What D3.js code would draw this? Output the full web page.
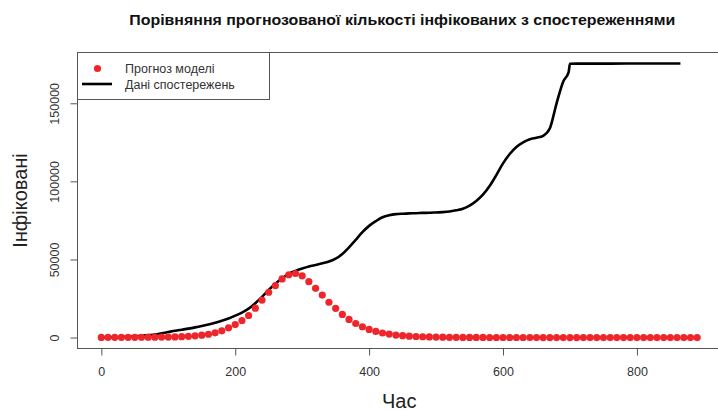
<!DOCTYPE html>
<html>
<head>
<meta charset="utf-8">
<script src="https://cdn.jsdelivr.net/npm/d3@7"></script>
<style>
  body { margin: 0; background: #fff; }
  text { font-family: "Liberation Sans", Arial, sans-serif; }
</style>
</head>
<body>
<div id="chart"></div>
<script>
// chart texts
var TITLE = 'Порівняння прогнозованої кількості інфікованих з спостереженнями';
var X_LABEL = 'Час';
var Y_LABEL = 'Інфіковані';
var LEGEND_LABELS = ['Прогноз моделі', 'Дані спостережень'];

// model forecast, one point every 10 days from day 0
var predStep = 10;
var predValues = [
  100, 105, 115, 125, 140, 160, 185, 215, 250, 290,
  300, 420, 580, 800, 1100, 1500, 2100, 3000, 4300, 6200,
  8300, 10900, 14100, 18800, 24000, 29000, 33300, 37500, 40200, 41000,
  39500, 35800, 31500, 27200, 22600, 18700, 14800, 11600, 9000, 6900,
  5200, 3900, 2900, 2200, 1600, 1200, 900, 680, 500, 380,
  280, 210, 160, 120, 90, 70, 50, 40, 30, 25,
  20, 15, 12, 10, 8, 6, 5, 4, 3, 3,
  2, 2, 1, 1, 1, 1, 1, 1, 1, 1,
  1, 1, 1, 1, 1, 1, 1, 1, 1, 1
];
var predDays = d3.range(predValues.length).map(function(i) { return i * predStep; });

// observed data (day, infected)
var obsDays = [
  0, 10, 20, 30, 40, 50, 60, 70, 80, 90,
  100, 110, 120, 130, 140, 150, 160, 170, 180, 190,
  200, 210, 220, 230, 240, 250, 260, 270, 280, 290,
  300, 310, 320, 330, 340, 350, 360, 370, 380, 390,
  400, 410, 420, 430, 440, 450, 460, 470, 480, 490,
  500, 510, 520, 530, 540, 550, 560, 570, 580, 590,
  600, 610, 620, 630, 640, 650, 660, 670, 680, 690,
  698, 700, 710, 760, 810, 865
];
var obsValues = [
  0, 100, 200, 400, 600, 800, 1100, 1500, 1900, 2700,
  3500, 4300, 5000, 5700, 6500, 7400, 8400, 9500, 10800, 12200,
  14000, 16000, 18500, 22000, 26000, 30500, 34500, 38000, 40800, 42700,
  44200, 45500, 46500, 47500, 48700, 50500, 53500, 57800, 62500, 67500,
  71500, 74500, 77000, 78300, 79000, 79300, 79500, 79600, 79800, 79900,
  80100, 80300, 80700, 81500, 82500, 84500, 87500, 91500, 97000, 104000,
  111500, 117500, 122000, 125000, 127000, 128000, 129200, 134000, 150000, 164000,
  170000, 175300, 175400, 175400, 175500, 175500
];

var yTicks = [0, 50000, 100000, 150000];
var xTicks = [0, 200, 400, 600, 800];

var DOT_COLOR = '#ee262b';
var LINE_COLOR = '#000';
var FRAME_COLOR = '#555';
var TEXT_COLOR = '#333';

var width = 718, height = 412;
var plot = { left: 77.5, right: 721, top: 52.5, bottom: 348.5 };

var svg = d3.select('#chart').append('svg')
  .attr('width', width)
  .attr('height', height);

// R style 4% padding around the data range
var xExt = d3.extent(predDays.concat(obsDays));
var yExt = d3.extent(predValues.concat(obsValues));
var xPad = (xExt[1] - xExt[0]) * 0.04;
var yPad = (yExt[1] - yExt[0]) * 0.04;

var x = d3.scaleLinear()
  .domain([xExt[0] - xPad, xExt[1] + xPad])
  .range([plot.left, plot.right]);
var y = d3.scaleLinear()
  .domain([yExt[0] - yPad, yExt[1] + yPad])
  .range([plot.bottom, plot.top]);

// frame
svg.append('rect')
  .attr('x', plot.left)
  .attr('y', plot.top)
  .attr('width', plot.right - plot.left)
  .attr('height', plot.bottom - plot.top)
  .attr('fill', 'none')
  .attr('stroke', FRAME_COLOR)
  .attr('stroke-width', 1);

// x axis
var xAxis = svg.append('g')
  .attr('transform', 'translate(0,' + plot.bottom + ')')
  .call(d3.axisBottom(x).tickValues(xTicks).tickSize(7).tickPadding(12).tickSizeOuter(0));
xAxis.select('.domain')
  .attr('d', 'M' + x(xTicks[0]) + ',0H' + x(xTicks[xTicks.length - 1]))
  .attr('stroke', FRAME_COLOR);
xAxis.selectAll('.tick line').attr('stroke', FRAME_COLOR);
xAxis.selectAll('.tick text')
  .attr('fill', TEXT_COLOR)
  .attr('font-size', '12.5px')
  .attr('font-family', '"Liberation Sans", Arial, sans-serif');

// y axis, labels turned like R's default
var yAxis = svg.append('g')
  .attr('transform', 'translate(' + plot.left + ',0)')
  .call(d3.axisLeft(y).tickValues(yTicks).tickFormat(d3.format('d')).tickSize(7).tickSizeOuter(0));
yAxis.select('.domain')
  .attr('d', 'M0,' + y(yTicks[0]) + 'V' + y(yTicks[yTicks.length - 1]))
  .attr('stroke', FRAME_COLOR);
yAxis.selectAll('.tick line').attr('stroke', FRAME_COLOR);
yAxis.selectAll('.tick text')
  .attr('x', null)
  .attr('dy', null)
  .attr('transform', 'translate(-19,0) rotate(-90)')
  .attr('text-anchor', 'middle')
  .attr('fill', TEXT_COLOR)
  .attr('font-size', '12.5px')
  .attr('font-family', '"Liberation Sans", Arial, sans-serif');

// observed line
var line = d3.line()
  .x(function(d) { return x(d[0]); })
  .y(function(d) { return y(d[1]); })
  .curve(d3.curveMonotoneX);

svg.append('path')
  .datum(obsDays.map(function(d, i) { return [d, obsValues[i]]; }))
  .attr('d', line)
  .attr('fill', 'none')
  .attr('stroke', LINE_COLOR)
  .attr('stroke-width', 2.6)
  .attr('stroke-linejoin', 'round');

// forecast points
svg.append('g')
  .selectAll('circle')
  .data(predDays.map(function(d, i) { return [d, predValues[i]]; }))
  .enter()
  .append('circle')
  .attr('cx', function(d) { return x(d[0]); })
  .attr('cy', function(d) { return y(d[1]); })
  .attr('r', 3.6)
  .attr('fill', DOT_COLOR);

// legend (top left, sitting on the frame)
var legend = svg.append('g');
legend.append('rect')
  .attr('x', plot.left)
  .attr('y', plot.top)
  .attr('width', 192)
  .attr('height', 47)
  .attr('fill', '#fff')
  .attr('stroke', FRAME_COLOR);
legend.append('circle')
  .attr('cx', 97.5).attr('cy', 68.5)
  .attr('r', 3.6)
  .attr('fill', DOT_COLOR);
legend.append('line')
  .attr('x1', 82).attr('x2', 112)
  .attr('y1', 84).attr('y2', 84)
  .attr('stroke', LINE_COLOR)
  .attr('stroke-width', 2.6);
legend.selectAll('text.lg')
  .data(LEGEND_LABELS)
  .enter()
  .append('text')
  .attr('class', 'lg')
  .attr('x', 125)
  .attr('y', function(d, i) { return 72.5 + i * 16; })
  .attr('font-size', '12.5px')
  .attr('fill', TEXT_COLOR)
  .text(function(d) { return d; });

// titles
svg.append('text')
  .attr('x', (plot.left + plot.right) / 2 + 3)
  .attr('y', 25)
  .attr('text-anchor', 'middle')
  .attr('font-size', '14.5px')
  .attr('font-weight', 'bold')
  .attr('fill', '#111')
  .attr('textLength', 546)
  .attr('lengthAdjust', 'spacingAndGlyphs')
  .text(TITLE);

svg.append('text')
  .attr('x', (plot.left + plot.right) / 2)
  .attr('y', 408)
  .attr('text-anchor', 'middle')
  .attr('font-size', '20px')
  .attr('fill', '#222')
  .text(X_LABEL);

svg.append('text')
  .attr('transform', 'translate(27,' + (plot.top + plot.bottom) / 2 + ') rotate(-90)')
  .attr('text-anchor', 'middle')
  .attr('font-size', '20px')
  .attr('fill', '#222')
  .text(Y_LABEL);
</script>
</body>
</html>
